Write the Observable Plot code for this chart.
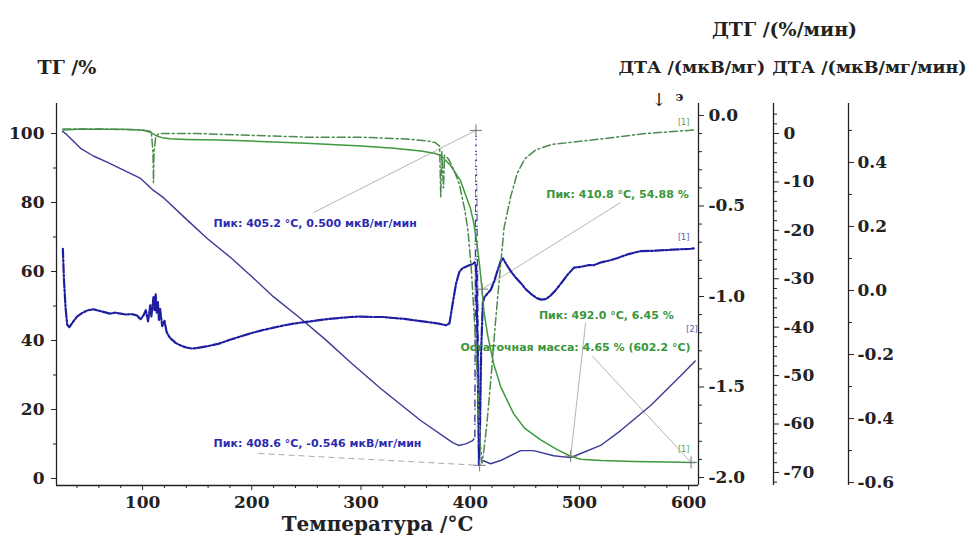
<!DOCTYPE html>
<html><head><meta charset="utf-8">
<script src="https://cdn.jsdelivr.net/npm/d3@7"></script>
<script src="https://cdn.jsdelivr.net/npm/@observablehq/plot@0.6"></script>
<style>body{margin:0;background:#fff;}</style>
</head><body><div id="chart"></div>
<script>
// ---------- DATA ----------
// TG (%), solid green
const T_TG = [27,40,60,80,95,103,108,113,118,125,140,170,200,250,300,330,355,368,373,382,391,397.6,400,403,406,408.5,410.8,412.5,416,421.4,428,439.7,450,464.5,480,492,501,520,550,580,602.2,606];
const TG   = [101.0,101.2,101.2,101.2,101.1,100.8,100.2,99.3,98.8,98.5,98.3,98.1,97.8,97.2,96.4,95.7,94.9,94.2,93.6,90.7,86.4,80.6,78.5,74.5,68.5,62,54.88,48.5,41.5,33.3,26.5,18.8,14.5,11.2,8.3,6.45,5.6,5.2,4.9,4.75,4.65,4.64];

// DTG (%/мин), dash-dot green
const T_DTG = [27,60,100,108,109.5,110,110.5,112,115,150,200,250,300,340,360,368,372,373,374,375.5,376.5,380,385,390,395,398,401,404,407,409,410.8,412.5,415,419,423,427,431,437,443,450,460,475,490,520,560,606];
const DTG   = [-0.075,-0.075,-0.08,-0.09,-0.2,-0.37,-0.2,-0.12,-0.1,-0.1,-0.11,-0.12,-0.12,-0.13,-0.14,-0.15,-0.17,-0.45,-0.2,-0.4,-0.22,-0.24,-0.3,-0.38,-0.52,-0.64,-0.85,-1.15,-1.5,-1.8,-1.92,-1.85,-1.72,-1.45,-1.15,-0.88,-0.62,-0.45,-0.32,-0.24,-0.19,-0.16,-0.15,-0.13,-0.1,-0.08];

// ДТА (мкВ/мг), noisy blue dash-dot
const T_DTA = [27,28,29.5,31,33,36,40,45,50,55,60,65,70,75,80,85,90,95,98,101,103,105,107,108,110,111,112,113,114,115,116,118,120,122,125,130,135,140,145,150,160,170,180,190,200,210,220,230,240,250,260,270,280,290,300,310,320,330,340,350,360,370,378,381,384,387,390,393,396,399,402,404,405.5,407,408,409,410,411.5,413,416,419,422,425,428,430,433,437,441,446,451,456,461,465,469,473,478,483,489,495,502,508,513,520,528,535,545,556,570,585,602,606];
const DTA   = [-23.8,-30,-36,-39.5,-40,-39,-37.8,-37,-36.5,-36.3,-36.6,-36.9,-37.2,-37.0,-37.2,-37.4,-37.3,-37.6,-38.4,-37.5,-36.5,-38.8,-35.5,-37.8,-33.8,-36.5,-33.2,-37,-34.8,-38.5,-36.2,-39.8,-38.6,-41,-42.2,-43.2,-43.8,-44.2,-44.4,-44.3,-43.9,-43.4,-42.6,-41.9,-41.2,-40.6,-40.1,-39.6,-39.2,-38.9,-38.6,-38.3,-38.1,-37.9,-37.8,-37.9,-37.9,-38.1,-38.3,-38.6,-38.9,-39.2,-39.6,-39.2,-35,-31,-28.6,-27.8,-27.5,-27.2,-27.0,-26.6,-27.5,-50,-68.5,-60,-45,-35,-33.8,-33,-32.2,-30.5,-28.3,-26.3,-25.8,-27,-28.4,-29.6,-30.8,-32.2,-33.2,-34,-34.3,-34.2,-33.6,-32.4,-31,-29.2,-27.7,-27.5,-27.2,-27.2,-26.6,-26.2,-25.7,-24.9,-24.3,-24.2,-24.0,-23.8,-23.7];

// ДТА (мкВ/мг/мин), solid blue
const T_DDTA = [26.7,29.5,43.2,55,68,98.2,110,119.2,141.2,160,180.6,198.9,220,244.7,268,290.5,318,354.6,383.9,389.4,396,402.2,404.2,405.2,406.9,408.6,411.4,418.7,427.8,446.2,458,476.4,491.9,501.1,519.4,537.7,565.2,592.7,606];
const DDTA   = [0.497,0.49,0.444,0.42,0.40,0.35,0.3125,0.29,0.219,0.16,0.103,0.047,-0.02,-0.0875,-0.155,-0.225,-0.306,-0.406,-0.475,-0.484,-0.479,-0.469,-0.46,0.500,-0.02,-0.546,-0.531,-0.541,-0.531,-0.5,-0.5,-0.516,-0.522,-0.509,-0.484,-0.4375,-0.359,-0.266,-0.22];

// Tick labels
const xTicks = [100,200,300,400,500,600];
const xMinor = [40,60,80,120,140,160,180,220,240,260,280,320,340,360,380,420,440,460,480,520,540,560,580];
const tgTicks = [0,20,40,60,80,100];
const tgMinor = [10,30,50,70,90];
const dtgTicks = [0,-0.5,-1,-1.5,-2];
const dtgMinor = [-0.1,-0.2,-0.3,-0.4,-0.6,-0.7,-0.8,-0.9,-1.1,-1.2,-1.3,-1.4,-1.6,-1.7,-1.8,-1.9];
const dtaTicks = [0,-10,-20,-30,-40,-50,-60,-70];
const dtaMinor = [4,2,-2,-4,-6,-8,-12,-14,-16,-18,-22,-24,-26,-28,-32,-34,-36,-38,-42,-44,-46,-48,-52,-54,-56,-58,-62,-64,-66,-68,-72];
const ddtaTicks = [0.4,0.2,0,-0.2,-0.4,-0.6];
const ddtaMinor = [0.5,0.3,0.1,-0.1,-0.3,-0.5];

// Annotations (temperature, TG-scale position)
const annoBlueText = ["Пик: 405.2 °C, 0.500 мкВ/мг/мин", "Пик: 408.6 °C, -0.546 мкВ/мг/мин"];
const annoBlueT = [165, 165];
const annoBlueY = [73.9, 10.1];
const annoGreenText = ["Пик: 410.8 °C, 54.88 %", "Пик: 492.0 °C, 6.45 %", "Остаточная масса: 4.65 % (602.2 °C)"];
const annoGreenT = [600, 586.3, 601.8];
const annoGreenY = [82.3, 47.2, 38.0];

// ---------- SCALE ALIGNMENT ----------
const xDomain = [21.2, 609];
const tgDomain = [-2.03, 108.7];
const dtgDomain = [-2.044, 0.066];
const dtaDomain = [-72.7, 6.2];
const ddtaDomain = [-0.609, 0.584];
const fromDTG = d3.scaleLinear().domain(dtgDomain).range(tgDomain);
const fromDTA = d3.scaleLinear().domain(dtaDomain).range(tgDomain);
const fromDDTA = d3.scaleLinear().domain(ddtaDomain).range(tgDomain);

const fmt1 = v => (Math.round(v * 10) / 10).toFixed(1);
const fmt0 = v => String(Math.round(v));

const tgData = d3.zip(T_TG, TG);
const dtgData = d3.zip(T_DTG, DTG);
const dtaData = d3.zip(T_DTA, DTA);
const ddtaData = d3.zip(T_DDTA, DDTA);
const spikeData = ddtaData.filter(d => d[0] >= 404.2 && d[0] <= 411.4);

const blueAnno = annoBlueText.map((s, i) => ({s, t: annoBlueT[i], y: annoBlueY[i]}));
const greenAnno = annoGreenText.map((s, i) => ({s, t: annoGreenT[i], y: annoGreenY[i]}));

// leader lines: from label to peak point
const leaders = [
  {t1: 256.6, y1: 77.1, t2: 405.2, y2: fromDDTA(0.5)},
  {t1: 537.7, y1: 80.0, t2: 410.8, y2: 54.88},
  {t1: 505.7, y1: 45.2, t2: 492.0, y2: 6.45},
  {t1: 512.0, y1: 35.4, t2: 602.2, y2: 4.65}
];
const dashedLeader = [{t1: 206.2, y1: 7.25, t2: 408.6, y2: fromDDTA(-0.546)}];
const peaks = [
  {t: 405.2, y: fromDDTA(0.5)}, {t: 408.6, y: fromDDTA(-0.546)},
  {t: 410.8, y: 54.88}, {t: 492.0, y: 6.45}, {t: 602.2, y: 4.65}
];
const tags = [
  {s: "[1]", t: 595.4, y: 103.2, c: "#5a9a5a"},
  {s: "[1]", t: 595.4, y: 69.9, c: "#5555aa"},
  {s: "[2]", t: 603, y: 43.3, c: "#5555aa"},
  {s: "[1]", t: 595.4, y: 8.4, c: "#5a9a5a"}
];

const GREEN = "#3d9a3d", DGREEN = "#4f8a4f", BLUE = "#1e1ea0", SBLUE = "#3a3a98", AX = "#222";

const chart = Plot.plot({
  width: 969, height: 553,
  marginTop: 103, marginBottom: 68, marginLeft: 56, marginRight: 271,
  x: {domain: xDomain, axis: null},
  y: {domain: tgDomain, axis: null},
  style: {fontFamily: "DejaVu Serif", fontSize: "17px", fontWeight: "bold", color: AX, background: "#fff", overflow: "visible"},
  marks: [
    // frame lines
    Plot.ruleX([xDomain[0]], {stroke: AX, strokeWidth: 1.3}),
    Plot.ruleX([xDomain[1]], {stroke: AX, strokeWidth: 1.3}),
    Plot.ruleX([xDomain[1]], {stroke: AX, strokeWidth: 1.3, dx: 75}),
    Plot.ruleX([xDomain[1]], {stroke: AX, strokeWidth: 1.3, dx: 150}),
    Plot.ruleY([tgDomain[0]], {stroke: AX, strokeWidth: 1.3}),
    // x axis
    Plot.axisX(xTicks, {anchor: "bottom", tickSize: 5, tickPadding: 5, label: null, tickFormat: d => String(d)}),
    Plot.axisX(xMinor, {anchor: "bottom", tickSize: 3, label: null, tickFormat: () => ""}),
    // TG axis
    Plot.axisY(tgTicks, {anchor: "left", tickSize: 5, tickPadding: 7, label: null, tickFormat: d => String(d)}),
    Plot.axisY(tgMinor, {anchor: "left", tickSize: 3, label: null, tickFormat: () => ""}),
    // DTG axis
    Plot.axisY(dtgTicks.map(fromDTG), {anchor: "right", tickSize: 5, tickPadding: 5, label: null, tickFormat: v => fmt1(fromDTG.invert(v))}),
    Plot.axisY(dtgMinor.map(fromDTG), {anchor: "right", tickSize: 3, label: null, tickFormat: () => ""}),
    // DTA axis (мкВ/мг)
    Plot.axisY(dtaTicks.map(fromDTA), {anchor: "right", dx: 75, tickSize: 5, tickPadding: 5, label: null, tickFormat: v => fmt0(fromDTA.invert(v))}),
    Plot.axisY(dtaMinor.map(fromDTA), {anchor: "right", dx: 75, tickSize: 3, label: null, tickFormat: () => ""}),
    // DTA axis (мкВ/мг/мин)
    Plot.axisY(ddtaTicks.map(fromDDTA), {anchor: "right", dx: 150, tickSize: 5, tickPadding: 4, label: null, tickFormat: v => fmt1(fromDDTA.invert(v))}),
    Plot.axisY(ddtaMinor.map(fromDDTA), {anchor: "right", dx: 150, tickSize: 3, label: null, tickFormat: () => ""}),

    // leader lines
    Plot.link(leaders, {x1: "t1", y1: "y1", x2: "t2", y2: "y2", stroke: "#b5b5b5", strokeWidth: 1}),
    Plot.link(dashedLeader, {x1: "t1", y1: "y1", x2: "t2", y2: "y2", stroke: "#aaa", strokeWidth: 1, strokeDasharray: "6,4"}),

    // curves
    Plot.line(ddtaData, {x: d => d[0], y: d => fromDDTA(d[1]), stroke: SBLUE, strokeWidth: 1.4}),
    Plot.line(spikeData, {x: d => d[0], y: d => fromDDTA(d[1]), stroke: "#fff", strokeWidth: 2, strokeDasharray: "0,9,3,3"}),
    Plot.line(dtaData, {x: d => d[0], y: d => fromDTA(d[1]), stroke: BLUE, strokeWidth: 2.2, strokeDasharray: "9,2,2,2"}),
    Plot.line(tgData, {x: d => d[0], y: d => d[1], stroke: GREEN, strokeWidth: 1.5}),
    Plot.line(dtgData, {x: d => d[0], y: d => fromDTG(d[1]), stroke: DGREEN, strokeWidth: 1.5, strokeDasharray: "8,3,2,3"}),

    Plot.dot(peaks, {x: "t", y: "y", symbol: "plus", r: 4, stroke: "#777", strokeWidth: 1}),

    // annotations
    Plot.text(blueAnno, {x: "t", y: "y", text: "s", textAnchor: "start", fill: "#2b2bb0", fontFamily: "DejaVu Sans", fontSize: 11, fontWeight: "bold"}),
    Plot.text(greenAnno, {x: "t", y: "y", text: "s", textAnchor: "end", fill: "#3a963a", fontFamily: "DejaVu Sans", fontSize: 11, fontWeight: "bold"}),
    Plot.text(tags, {x: "t", y: "y", text: "s", fill: d => d.c, fontFamily: "DejaVu Sans", fontSize: 8, fontWeight: "normal"}),
    Plot.text(["↓"], {frameAnchor: "top-right", dx: -32, dy: -10, fontSize: 18, fontWeight: "normal"}),
    Plot.text(["э"], {frameAnchor: "top-right", dx: -15, dy: -12, fontSize: 13}),

    // titles
    Plot.text(["ТГ /%"], {frameAnchor: "top-left", dx: -19, dy: -43, textAnchor: "start", fontSize: 19}),
    Plot.text(["ДТГ /(%/мин)"], {frameAnchor: "top-right", dx: 86, dy: -81, textAnchor: "middle", fontSize: 19}),
    Plot.text(["ДТА /(мкВ/мг)"], {frameAnchor: "top-right", dx: -80, dy: -43, textAnchor: "start", fontSize: 17.5}),
    Plot.text(["ДТА /(мкВ/мг/мин)"], {frameAnchor: "top-right", dx: 268, dy: -43, textAnchor: "end", fontSize: 17.5}),
    Plot.text(["Температура /°C"], {frameAnchor: "bottom", dy: 45, fontSize: 20})
  ]
});
document.getElementById("chart").appendChild(chart);
</script>
</body></html>
